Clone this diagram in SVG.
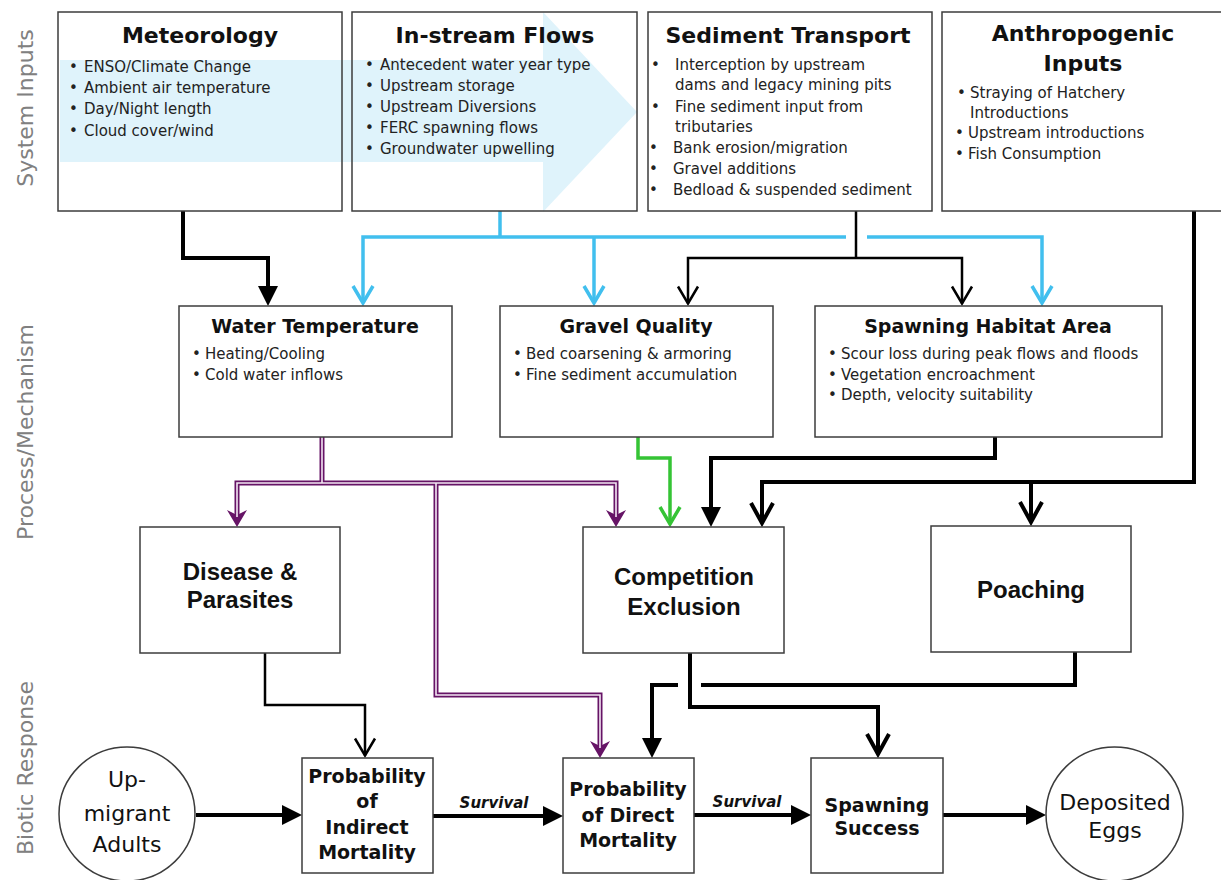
<svg xmlns="http://www.w3.org/2000/svg" width="1221" height="880" viewBox="0 0 1221 880">
<defs>
<style>
.box{fill:#fff;stroke:#3c3c3c;stroke-width:1.5}
.boxn{fill:none;stroke:#3c3c3c;stroke-width:1.5}
.side{font-family:"DejaVu Sans",sans-serif;font-size:22px;fill:#808080;text-anchor:middle}
.t1{font-family:"DejaVu Sans",sans-serif;font-weight:bold;font-size:22px;fill:#111;text-anchor:middle}
.t2{font-family:"DejaVu Sans",sans-serif;font-weight:bold;font-size:19px;fill:#111;text-anchor:middle}
.b{font-family:"DejaVu Sans",sans-serif;font-size:15px;fill:#222}
.t3{font-family:"Liberation Sans",Arial,sans-serif;font-weight:bold;font-size:24px;fill:#111;text-anchor:middle}
.t4{font-family:"DejaVu Sans",sans-serif;font-weight:bold;font-size:19px;fill:#111;text-anchor:middle}
.t5{font-family:"DejaVu Sans",sans-serif;font-size:22px;fill:#111;text-anchor:middle}
.surv{font-family:"DejaVu Sans",sans-serif;font-weight:bold;font-style:italic;font-size:15px;fill:#111;text-anchor:middle}
.k{fill:none;stroke:#000;stroke-width:4}
.kt{fill:none;stroke:#000;stroke-width:2.5}
.bl{fill:none;stroke:#41bfee;stroke-width:3.5}
.gr{fill:none;stroke:#35c435;stroke-width:3.5}
.pu{fill:none;stroke:#661466;stroke-width:5}
.pu2{fill:none;stroke:#f4e8f4;stroke-width:1.6}
</style>
<marker id="fk" markerUnits="userSpaceOnUse" viewBox="-20 -12 28 24" markerWidth="28" markerHeight="24" refX="0" refY="0" orient="auto"><path d="M5,0 L-15,-10 L-15,10 z" fill="#000"/></marker>
<marker id="ok4" markerUnits="userSpaceOnUse" viewBox="-26 -16 34 32" markerWidth="34" markerHeight="32" refX="0" refY="0" orient="auto"><path d="M-20,-11 L0,0 L-20,11" fill="none" stroke="#000" stroke-width="4"/></marker>
<marker id="ok2" markerUnits="userSpaceOnUse" viewBox="-22 -14 30 28" markerWidth="30" markerHeight="28" refX="0" refY="0" orient="auto"><path d="M-17,-10 L0,0 L-17,10" fill="none" stroke="#000" stroke-width="2.5"/></marker>
<marker id="ob" markerUnits="userSpaceOnUse" viewBox="-22 -14 30 28" markerWidth="30" markerHeight="28" refX="0" refY="0" orient="auto"><path d="M-17,-10 L0,0 L-17,10" fill="none" stroke="#41bfee" stroke-width="3.5"/></marker>
<marker id="og" markerUnits="userSpaceOnUse" viewBox="-22 -14 30 28" markerWidth="30" markerHeight="28" refX="0" refY="0" orient="auto"><path d="M-17,-10 L0,0 L-17,10" fill="none" stroke="#35c435" stroke-width="3.5"/></marker>
<marker id="pm" markerUnits="userSpaceOnUse" viewBox="-12 -12 26 24" markerWidth="26" markerHeight="24" refX="0" refY="0" orient="auto"><path d="M10,0 L-7,-10 L-2,0 L-7,10 z" fill="#661466"/></marker>
</defs>
<rect x="0" y="0" width="1221" height="880" fill="#fff"/>

<polygon id="flow-arrow" points="60,60 543,60 543,12 637,112 543,212 543,162 60,162" fill="#bfe8f7" fill-opacity="0.5"/>

<g id="side-labels">
<text class="side" transform="translate(33,108) rotate(-90)">System Inputs</text>
<text class="side" transform="translate(33,432) rotate(-90)">Process/Mechanism</text>
<text class="side" transform="translate(33,768) rotate(-90)">Biotic Response</text>
</g>

<g id="connectors">
<path class="k" d="M183,211 V258 H268 V301" marker-end="url(#fk)"/>
<path class="bl" d="M500,211 V237"/>
<path class="bl" d="M846,237 H363 V303" marker-end="url(#ob)"/>
<path class="bl" d="M594,237 V303" marker-end="url(#ob)"/>
<path class="bl" d="M867,237 H1042 V303" marker-end="url(#ob)"/>
<path class="kt" d="M856,211 V258"/>
<path class="kt" d="M856,258 H688 V303.5" marker-end="url(#ok2)"/>
<path class="kt" d="M856,258 H962 V303.5" marker-end="url(#ok2)"/>
<path class="k" d="M1194,211 V482 H762 V523" marker-end="url(#ok4)"/>
<path class="k" d="M1031,482 V522" marker-end="url(#ok4)"/>
<path class="k" d="M995,437 V458 H711 V522" marker-end="url(#fk)"/>
<path class="gr" d="M638,437 V458 H670 V524" marker-end="url(#og)"/>
<path class="pu" d="M322,437 V483"/>
<path class="pu" d="M322,483 H237 V517" marker-end="url(#pm)"/>
<path class="pu" d="M322,483 H616 V517" marker-end="url(#pm)"/>
<path class="pu" d="M436,483 V695 H600 V748" marker-end="url(#pm)"/>
<path class="pu2" d="M322,437 V483"/>
<path class="pu2" d="M322,483 H237 V517"/>
<path class="pu2" d="M322,483 H616 V517"/>
<path class="pu2" d="M436,483 V695 H600 V748"/>
<path class="kt" d="M265,653 V705 H365 V755.5" marker-end="url(#ok2)"/>
<path class="k" d="M690,653 V707 H878 V754" marker-end="url(#ok4)"/>
<path class="k" d="M1075,652 V685 H701"/>
<path class="k" d="M678,685 H652 V753" marker-end="url(#fk)"/>
<path class="k" d="M196,815 H297" marker-end="url(#fk)"/>
<path class="k" d="M433,816 H558" marker-end="url(#fk)"/>
<path class="k" d="M694,815 H806" marker-end="url(#fk)"/>
<path class="k" d="M943,815 H1041" marker-end="url(#fk)"/>
<text class="surv" x="494" y="808">Survival</text>
<text class="surv" x="747" y="807">Survival</text>
</g>

<g id="meteorology">
<rect class="boxn" x="58" y="12" width="284" height="199"/>
<text class="t1" x="200" y="43">Meteorology</text>
<text class="b" y="72"><tspan x="69">•</tspan><tspan x="84">ENSO/Climate Change</tspan></text>
<text class="b" y="93"><tspan x="69">•</tspan><tspan x="84">Ambient air temperature</tspan></text>
<text class="b" y="114"><tspan x="69">•</tspan><tspan x="84">Day/Night  length</tspan></text>
<text class="b" y="136"><tspan x="69">•</tspan><tspan x="84">Cloud cover/wind</tspan></text>
</g>

<g id="instream-flows">
<rect class="boxn" x="352" y="12" width="285" height="199"/>
<text class="t1" x="495" y="43">In-stream Flows</text>
<text class="b" y="70"><tspan x="365">•</tspan><tspan x="380">Antecedent water year type</tspan></text>
<text class="b" y="91"><tspan x="365">•</tspan><tspan x="380">Upstream storage</tspan></text>
<text class="b" y="112"><tspan x="365">•</tspan><tspan x="380">Upstream Diversions</tspan></text>
<text class="b" y="133"><tspan x="365">•</tspan><tspan x="380">FERC spawning flows</tspan></text>
<text class="b" y="154"><tspan x="365">•</tspan><tspan x="380">Groundwater upwelling</tspan></text>
</g>

<g id="sediment-transport">
<rect class="boxn" x="648" y="12" width="284" height="199"/>
<text class="t1" x="788" y="43">Sediment Transport</text>
<text class="b" y="70"><tspan x="651">•</tspan><tspan x="675">Interception  by upstream</tspan></text>
<text class="b" x="675" y="90">dams and legacy mining pits</text>
<text class="b" y="112"><tspan x="651">•</tspan><tspan x="675">Fine sediment input from</tspan></text>
<text class="b" x="675" y="132">tributaries</text>
<text class="b" y="153"><tspan x="649">•</tspan><tspan x="673">Bank erosion/migration</tspan></text>
<text class="b" y="174"><tspan x="649">•</tspan><tspan x="673">Gravel additions</tspan></text>
<text class="b" y="195"><tspan x="649">•</tspan><tspan x="673">Bedload &amp; suspended sediment</tspan></text>
</g>

<g id="anthropogenic-inputs">
<rect class="boxn" x="942" y="12" width="290" height="199"/>
<text class="t1" x="1083" y="41">Anthropogenic</text>
<text class="t1" x="1083" y="71">Inputs</text>
<text class="b" y="98"><tspan x="957">•</tspan><tspan x="970">Straying of Hatchery</tspan></text>
<text class="b" x="970" y="118">Introductions</text>
<text class="b" y="138"><tspan x="955">•</tspan><tspan x="968">Upstream introductions</tspan></text>
<text class="b" y="159"><tspan x="955">•</tspan><tspan x="968">Fish Consumption</tspan></text>
</g>

<g id="water-temperature">
<rect class="box" x="179" y="306" width="273" height="131"/>
<text class="t2" x="315" y="333">Water Temperature</text>
<text class="b" y="359"><tspan x="192">•</tspan><tspan x="205">Heating/Cooling</tspan></text>
<text class="b" y="380"><tspan x="192">•</tspan><tspan x="205">Cold water inflows</tspan></text>
</g>

<g id="gravel-quality">
<rect class="box" x="500" y="306" width="273" height="131"/>
<text class="t2" x="636" y="333">Gravel Quality</text>
<text class="b" y="359"><tspan x="513">•</tspan><tspan x="526">Bed coarsening &amp; armoring</tspan></text>
<text class="b" y="380"><tspan x="513">•</tspan><tspan x="526">Fine sediment accumulation</tspan></text>
</g>

<g id="spawning-habitat-area">
<rect class="box" x="815" y="306" width="347" height="131"/>
<text class="t2" x="988" y="333">Spawning Habitat Area</text>
<text class="b" y="359"><tspan x="828">•</tspan><tspan x="841">Scour loss during peak flows and floods</tspan></text>
<text class="b" y="380"><tspan x="828">•</tspan><tspan x="841">Vegetation  encroachment</tspan></text>
<text class="b" y="400"><tspan x="828">•</tspan><tspan x="841">Depth,  velocity  suitability</tspan></text>
</g>

<g id="disease-parasites">
<rect class="box" x="140" y="527" width="200" height="126"/>
<text class="t3" x="240" y="580">Disease &amp;</text>
<text class="t3" x="240" y="608">Parasites</text>
</g>

<g id="competition-exclusion">
<rect class="box" x="583" y="527" width="201" height="126"/>
<text class="t3" x="684" y="585">Competition</text>
<text class="t3" x="684" y="615">Exclusion</text>
</g>

<g id="poaching">
<rect class="box" x="931" y="526" width="200" height="126"/>
<text class="t3" x="1031" y="598">Poaching</text>
</g>

<g id="upmigrant-adults">
<ellipse cx="127" cy="814" rx="68" ry="67" fill="#fff" stroke="#3c3c3c" stroke-width="1.5"/>
<text class="t5" x="127" y="787">Up-</text>
<text class="t5" x="127" y="821">migrant</text>
<text class="t5" x="127" y="852">Adults</text>
</g>

<g id="indirect-mortality">
<rect class="box" x="302" y="758" width="131" height="115"/>
<text class="t4" x="367" y="783">Probability</text>
<text class="t4" x="367" y="808">of</text>
<text class="t4" x="367" y="834">Indirect</text>
<text class="t4" x="367" y="859">Mortality</text>
</g>

<g id="direct-mortality">
<rect class="box" x="563" y="758" width="131" height="115"/>
<text class="t4" x="628" y="796">Probability</text>
<text class="t4" x="628" y="822">of Direct</text>
<text class="t4" x="628" y="847">Mortality</text>
</g>

<g id="spawning-success">
<rect class="box" x="811" y="758" width="132" height="115"/>
<text class="t4" x="877" y="812">Spawning</text>
<text class="t4" x="877" y="835">Success</text>
</g>

<g id="deposited-eggs">
<ellipse cx="1114.5" cy="814" rx="68.5" ry="67" fill="#fff" stroke="#3c3c3c" stroke-width="1.5"/>
<text class="t5" x="1115" y="810">Deposited</text>
<text class="t5" x="1115" y="838">Eggs</text>
</g>
</svg>
